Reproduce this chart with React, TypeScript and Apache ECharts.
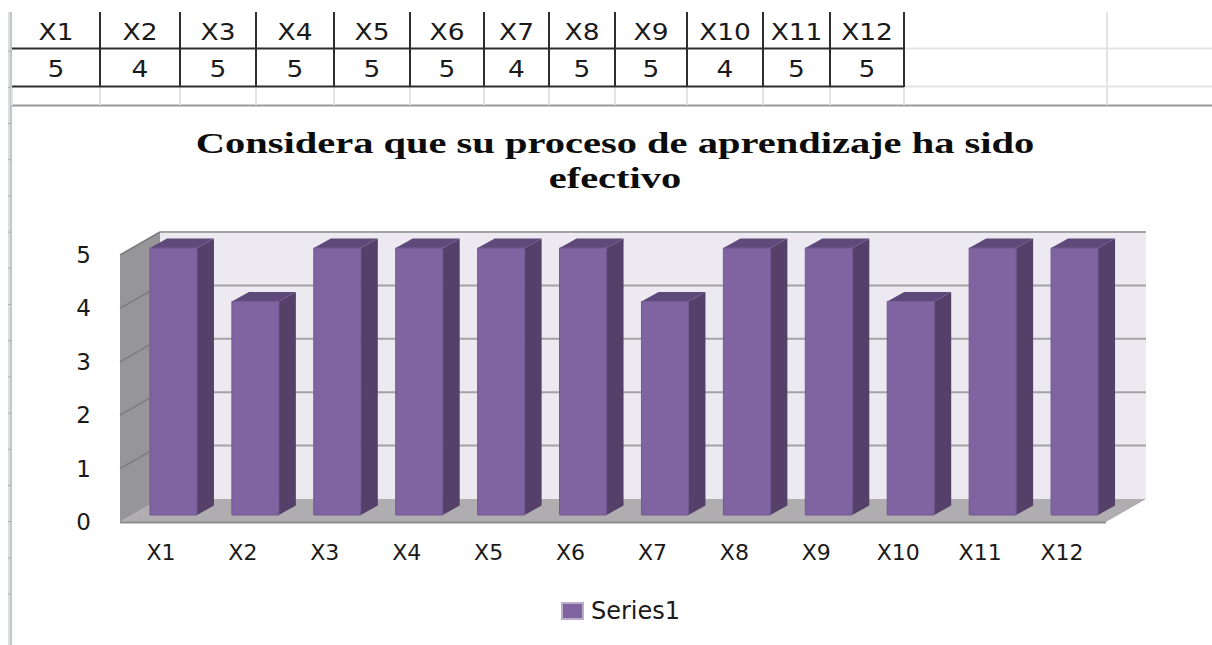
import React, { useEffect, useRef } from "react";
import * as echarts from "echarts";

const categories = ["X1", "X2", "X3", "X4", "X5", "X6", "X7", "X8", "X9", "X10", "X11", "X12"];
const values = [5, 4, 5, 5, 5, 5, 4, 5, 5, 4, 5, 5];
const yTicks = [0, 1, 2, 3, 4, 5];
const tableColumnEdges = [12, 100, 180, 256, 334, 410, 484, 549, 615, 687, 763, 830, 904];
const titleText = "Considera que su proceso de aprendizaje ha sido\nefectivo";
const seriesName = "Series1";

const WALL_DX = 40;
const WALL_DY = -23;
const FLOOR_EXTRA = 3;
const BAR_DX = 12.5;
const BAR_DY = -7;
const BAR_W = 47;
const SIDE_DX = 17;
const SIDE_DY = -9.5;

const LABEL_FONT = "'DejaVu Sans', sans-serif";

function App() {
  const ref = useRef<HTMLDivElement>(null);
  useEffect(() => {
    document.body.style.margin = "0";
    document.body.style.background = "#fff";
    const chart = echarts.init(ref.current!, undefined, { renderer: "svg" });

    const line = (x1: number, y1: number, x2: number, y2: number, stroke: string, lineWidth: number) => ({
      type: "line",
      silent: true,
      shape: { x1, y1, x2, y2 },
      style: { stroke, lineWidth },
    });
    const light = "#e4e4e4";
    const dark = "#2e2e2e";
    const graphics: any[] = [];
    graphics.push(line(9, 12, 9, 645, "#dcdfe1", 2));
    graphics.push(line(11, 12, 11, 645, "#c1c6ca", 2));
    for (let k = -2; k <= 13; k++) {
      const y = 123.5 + 36.2 * k;
      graphics.push(line(8, y, 11, y, "#a9adb0", 1));
    }
    graphics.push(line(12, 105.5, 1212, 105.5, "#9a9a9a", 2));
    graphics.push(line(904, 48.5, 1212, 48.5, light, 2));
    graphics.push(line(904, 86.5, 1212, 86.5, light, 2));
    graphics.push(line(1107, 12, 1107, 105, light, 2));
    tableColumnEdges.forEach((x, i) => {
      graphics.push(line(x, 86, x, 105, light, 2));
      if (i > 0) graphics.push(line(x, 12, x, 87, dark, 2));
    });
    graphics.push(line(12, 48.5, 904, 48.5, dark, 2));
    graphics.push(line(12, 86.5, 904, 86.5, dark, 2));
    categories.forEach((c, i) => {
      const cx = (tableColumnEdges[i] + tableColumnEdges[i + 1]) / 2;
      const base = { textAlign: "center", textVerticalAlign: "middle", fontFamily: LABEL_FONT, fontSize: 23, fill: "#1a1a1a" };
      graphics.push({ type: "text", silent: true, x: cx, y: 32, scaleX: 1.15, style: { ...base, text: c } });
      graphics.push({ type: "text", silent: true, x: cx, y: 69, scaleX: 1.15, style: { ...base, text: String(values[i]) } });
    });
    graphics.push({
      type: "text",
      silent: true,
      x: 615,
      y: 160,
      scaleX: 1.35,
      style: {
        text: titleText,
        textAlign: "center",
        textVerticalAlign: "middle",
        fontFamily: "'Liberation Serif', serif",
        fontWeight: "bold",
        fontSize: 30,
        lineHeight: 35,
        fill: "#0c0c0c",
      },
    });

    chart.setOption({
      animation: false,
      backgroundColor: "#fff",
      legend: {
        data: [seriesName],
        left: 561,
        top: 599,
        padding: 0,
        icon: "rect",
        itemWidth: 21,
        itemHeight: 16,
        itemGap: 7,
        textStyle: { fontFamily: LABEL_FONT, fontSize: 24, color: "#1a1a1a", padding: [0, 0, 0, 3] },
      },
      grid: { left: 120, right: 109, top: 255, bottom: 123 },
      xAxis: {
        type: "category",
        data: categories,
        axisLine: { show: false },
        axisTick: { show: false },
        axisLabel: { margin: 19, fontFamily: LABEL_FONT, fontSize: 22, color: "#1a1a1a" },
      },
      yAxis: {
        type: "value",
        min: 0,
        max: 5,
        interval: 1,
        axisLine: { show: false },
        axisTick: { show: false },
        splitLine: { show: false },
        axisLabel: { margin: 29, fontFamily: LABEL_FONT, fontSize: 23, color: "#1a1a1a" },
      },
      graphic: graphics,
      series: [
        {
          type: "custom",
          name: "walls",
          silent: true,
          z: 1,
          data: yTicks.map((t) => [0, t]),
          renderItem: (params: any, api: any) => {
            const band = api.size([1, 0])[0];
            const x0 = api.coord([0, 0])[0] - band / 2;
            const x1 = x0 + band * categories.length + FLOOR_EXTRA;
            const yv = api.coord([0, api.value(1)])[1];
            const y0 = api.coord([0, 0])[1];
            const yTop = api.coord([0, yTicks[yTicks.length - 1]])[1];
            const children: any[] = [];
            if (params.dataIndex === 0) {
              children.push({
                type: "polygon",
                shape: { points: [[x0 + WALL_DX, yTop + WALL_DY], [x1 + WALL_DX, yTop + WALL_DY], [x1 + WALL_DX, y0 + WALL_DY], [x0 + WALL_DX, y0 + WALL_DY]] },
                style: { fill: "#ece9f1" },
              });
              children.push({
                type: "polygon",
                shape: { points: [[x0, yTop], [x0 + WALL_DX, yTop + WALL_DY], [x0 + WALL_DX, y0 + WALL_DY], [x0, y0]] },
                style: { fill: "#969598" },
              });
              children.push({
                type: "polygon",
                shape: { points: [[x0, y0], [x0 + WALL_DX, y0 + WALL_DY], [x1 + WALL_DX, y0 + WALL_DY], [x1, y0]] },
                style: { fill: "#afadb0" },
              });
              children.push({
                type: "line",
                shape: { x1: x0, y1: y0 + 0.5, x2: x1, y2: y0 + 0.5 },
                style: { stroke: "#8e8e8e", lineWidth: 2 },
              });
            }
            if (params.dataIndex > 0) {
              children.push({
                type: "line",
                shape: { x1: x0, y1: yv, x2: x0 + WALL_DX, y2: yv + WALL_DY },
                style: { stroke: "#7c7c7e", lineWidth: 1.5 },
              });
              children.push({
                type: "line",
                shape: { x1: x0 + WALL_DX, y1: yv + WALL_DY, x2: x1 + WALL_DX, y2: yv + WALL_DY },
                style: { stroke: "#a3a3a5", lineWidth: 2 },
              });
            }
            return { type: "group", children };
          },
        },
        {
          type: "custom",
          name: seriesName,
          z: 2,
          itemStyle: { color: "#8063a1", borderColor: "#b9aec8", borderWidth: 1 },
          data: categories.map((c, i) => [i, values[i]]),
          renderItem: (_p: any, api: any) => {
            const i = api.value(0);
            const top = api.coord([i, api.value(1)]);
            const base = api.coord([i, 0]);
            const xl = top[0] + BAR_DX - BAR_W / 2;
            const xr = xl + BAR_W;
            const yt = top[1] + BAR_DY;
            const yb = base[1] + BAR_DY;
            return {
              type: "group",
              children: [
                {
                  type: "polygon",
                  shape: { points: [[xr, yt], [xr + SIDE_DX, yt + SIDE_DY], [xr + SIDE_DX, yb + SIDE_DY], [xr, yb]] },
                  style: { fill: "#544069" },
                },
                {
                  type: "polygon",
                  shape: { points: [[xl, yt], [xl + SIDE_DX, yt + SIDE_DY], [xr + SIDE_DX, yt + SIDE_DY], [xr, yt]] },
                  style: { fill: "#5f497a" },
                },
                {
                  type: "rect",
                  shape: { x: xl, y: yt, width: BAR_W, height: yb - yt },
                  style: { fill: "#8063a1", stroke: "#715a91", lineWidth: 1 },
                },
              ],
            };
          },
        },
      ],
    });
    return () => chart.dispose();
  }, []);
  return <div ref={ref} style={{ position: "absolute", left: 0, top: 0, width: 1212, height: 645 }} />;
}

export default App;
